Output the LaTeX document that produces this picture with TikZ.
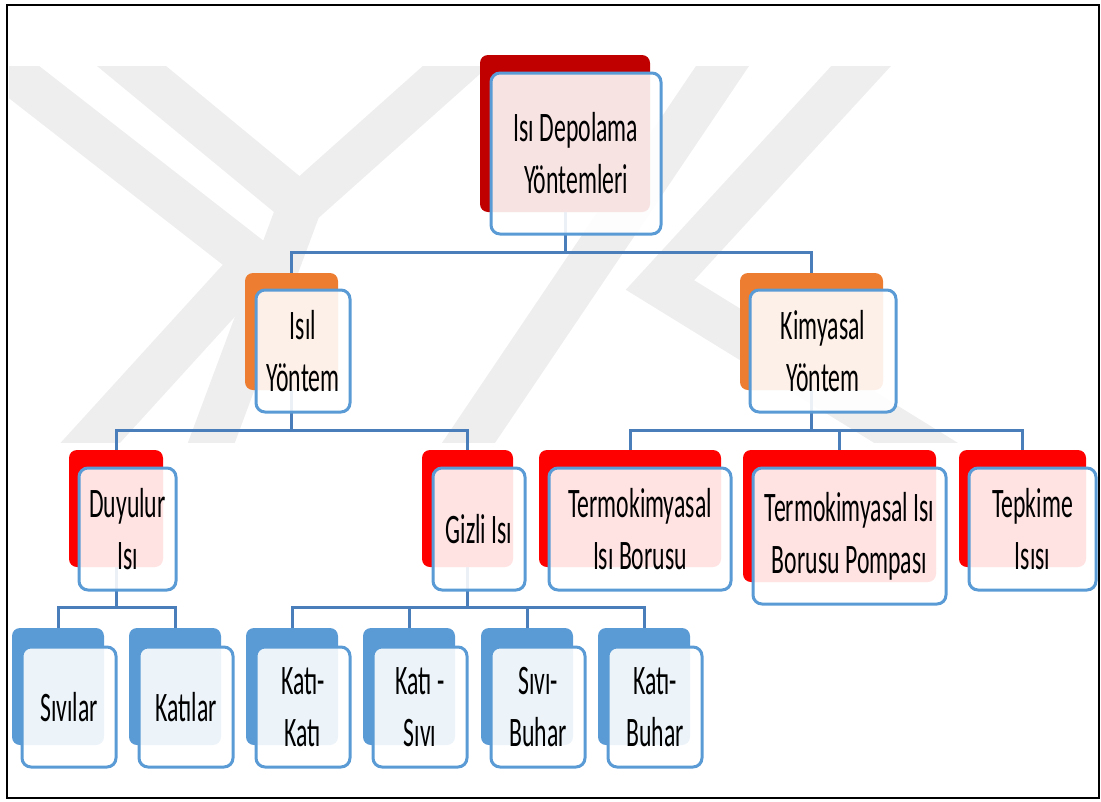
\documentclass[tikz,border=0pt]{standalone}
\usepackage{fontspec}
\setmainfont{Carlito}[FakeStretch=0.565]
\usetikzlibrary{fit}
\pgfdeclarelayer{background}
\pgfsetlayers{background,main}
\definecolor{wmgray}{HTML}{EEEEEE}
\definecolor{connblue}{HTML}{4A7EBB}
\definecolor{boxblue}{HTML}{5B9BD5}
\definecolor{rootred}{HTML}{C00000}
\definecolor{midorange}{HTML}{ED7D31}
\definecolor{lowred}{HTML}{FF0000}
\definecolor{leafblue}{HTML}{5B9BD5}

% one organisation-chart entry: coloured tab behind a translucent framed card
\newcommand\orgcard[7]{%
  \node[tabbox, fill=#6, fit={(#2) (#3)}] (t#1) {};
  \node[cardbox, fit={(#4) (#5)}] (#1) {};
  \node[lbl] (#1-txt) at (#1.center) {#7};
}

\begin{document}
\begin{tikzpicture}[x=1pt,y=-1pt,
  tabbox/.style={rounded corners=8pt, inner sep=0pt, outer sep=0pt},
  cardbox/.style={draw=boxblue, line width=3pt, fill=white, fill opacity=0.89,
                  rounded corners=9pt, inner sep=0pt, outer sep=0pt},
  lbl/.style={font=\fontsize{42}{52}\selectfont, align=center, text=black,
              inner sep=0pt},
  conn/.style={draw=connblue, line width=3pt, line cap=rect},
  wm/.style={draw=wmgray, line width=44pt, line join=miter}]

% page size and outer frame
\useasboundingbox (0,0) rectangle (1101,801);
\draw[line width=2.5pt] (7,5) rectangle (1099,798);

% faint emblem in the background
\begin{pgfonlayer}{background}
  \begin{scope}
    \clip (9,66) rectangle (1097,442);
    \draw[wm] (-30,40) -- (255,262) -- (20,520);
    \draw[wm] (100,40) -- (300,205);
    \draw[wm] (485,40) -- (300,205) -- (190,500);
    \draw[wm] (740,40) -- (430,500);
    \draw[wm] (885,40) -- (660,285) -- (960,470);
  \end{scope}
\end{pgfonlayer}

% level 0
\orgcard{root}{480,55}{650,212}{491,73}{661,234}{rootred}{Isı Depolama\\Yöntemleri}
% level 1
\orgcard{isil}{245,273}{338,390}{256,290}{350,412}{midorange}{Isıl\\Yöntem}
\orgcard{kim}{740,273}{883,390}{750,290}{896,412}{midorange}{Kimyasal\\Yöntem}
% level 2
\orgcard{duy}{69,450}{163,567}{79,468}{176,590}{lowred}{Duyulur\\Isı}
\orgcard{giz}{422,450}{513,567}{433,468}{525,590}{lowred}{Gizli Isı}
\orgcard{tkb}{539,450}{721,567}{549,468}{731,590}{lowred}{Termokimyasal\\Isı Borusu}
\orgcard{tkp}{743,450}{936,582}{753,468}{946,604}{lowred}{Termokimyasal Isı\\Borusu Pompası}
\orgcard{tep}{959,450}{1086,567}{969,468}{1096,590}{lowred}{Tepkime\\Isısı}
% level 3
\orgcard{siv}{12,628}{104,745}{22,647}{116,767}{leafblue}{Sıvılar}
\orgcard{kat}{129,628}{221,745}{139,647}{233,767}{leafblue}{Katılar}
\orgcard{kk}{246,628}{338,745}{256,647}{350,767}{leafblue}{Katı-\\Katı}
\orgcard{ks}{363,628}{455,745}{373,647}{467,767}{leafblue}{Katı -\\Sıvı}
\orgcard{sb}{481,628}{573,745}{491,647}{585,767}{leafblue}{Sıvı-\\Buhar}
\orgcard{kb}{598,628}{690,745}{608,647}{702,767}{leafblue}{Katı-\\Buhar}

% connector levels
\coordinate (busA) at (0,252);
\coordinate (busB) at (0,430);
\coordinate (busC) at (0,607);

\begin{pgfonlayer}{background}
  % root to level 1
  \draw[conn] (troot.south) -- (troot.south |- busA);
  \draw[conn] (tisil.north |- busA) -- (tkim.north |- busA);
  \foreach \c in {isil,kim} \draw[conn] (t\c.north |- busA) -- (t\c.north);
  % thermal branch
  \draw[conn] (tisil.south) -- (tisil.south |- busB);
  \draw[conn] (tduy.north |- busB) -- (tgiz.north |- busB);
  \foreach \c in {duy,giz} \draw[conn] (t\c.north |- busB) -- (t\c.north);
  % chemical branch
  \draw[conn] (tkim.south) -- (tkim.south |- busB);
  \draw[conn] (ttkb.north |- busB) -- (ttep.north |- busB);
  \foreach \c in {tkb,tkp,tep} \draw[conn] (t\c.north |- busB) -- (t\c.north);
  % sensible heat
  \draw[conn] (tduy.south) -- (tduy.south |- busC);
  \draw[conn] (tsiv.north |- busC) -- (tkat.north |- busC);
  \foreach \c in {siv,kat} \draw[conn] (t\c.north |- busC) -- (t\c.north);
  % latent heat
  \draw[conn] (tgiz.south) -- (tgiz.south |- busC);
  \draw[conn] (tkk.north |- busC) -- (tkb.north |- busC);
  \foreach \c in {kk,ks,sb,kb} \draw[conn] (t\c.north |- busC) -- (t\c.north);
\end{pgfonlayer}
\end{tikzpicture}
\end{document}
